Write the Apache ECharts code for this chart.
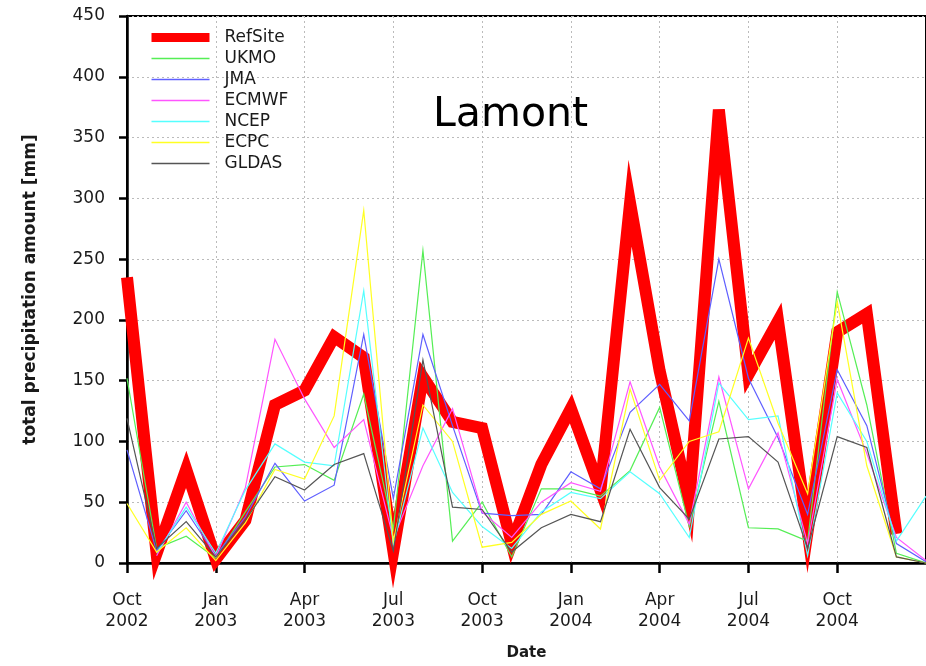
<!DOCTYPE html>
<html><head><meta charset="utf-8">
<script src="https://cdn.jsdelivr.net/npm/echarts@6/dist/echarts.min.js"></script>
<style>html,body{margin:0;padding:0;background:#fff}#c{width:926px;height:666px}</style>
</head><body><div id="c"></div>
<script>
const months = ["Oct 2002","Nov 2002","Dec 2002","Jan 2003","Feb 2003","Mar 2003","Apr 2003","May 2003","Jun 2003","Jul 2003","Aug 2003","Sep 2003","Oct 2003","Nov 2003","Dec 2003","Jan 2004","Feb 2004","Mar 2004","Apr 2004","May 2004","Jun 2004","Jul 2004","Aug 2004","Sep 2004","Oct 2004","Nov 2004","Dec 2004","Jan 2005"];
const seriesNames = ["RefSite","UKMO","JMA","ECMWF","NCEP","ECPC","GLDAS"];
const refSite = [235, 8, 77, 3, 35, 130, 142, 186, 169, 10, 153, 116, 111, 16, 81, 127, 60, 296, 158, 50, 373, 155, 199, 26, 190, 205, 24, null];
const ukmo    = [152, 12, 22, 4, 42, 79, 81, 68, 139, 28, 257, 18, 50, 5, 61, 61, 55, 76, 128, 30, 133, 29, 28, 18, 223, 130, 8, 0];
const jma     = [93, 10, 43, 6, 38, 82, 51, 64, 188, 53, 188, 113, 41, 39, 40, 75, 61, 124, 147, 117, 250, 152, 103, 40, 159, 113, 16, 1];
const ecmwf   = [null, 6, 50, 5, 62, 184, 135, 95, 118, 20, 80, 127, 42, 21, 50, 66, 59, 149, 79, 32, 153, 61, 107, 16, 151, 90, 21, 2];
const ncep    = [null, 8, 46, 8, 60, 98, 83, 80, 224, 15, 111, 58, 30, 12, 42, 58, 53, 75, 57, 21, 148, 118, 121, 6, 140, 100, 18, 55];
const ecpc    = [49, 9, 29, 2, 33, 77, 69, 121, 290, 18, 130, 100, 13, 17, 40, 51, 28, 143, 68, 100, 108, 185, 115, 57, 215, 80, 5, 0];
const gldas   = [119, 12, 34, 5, 35, 71, 60, 81, 90, 10, 167, 46, 44, 9, 29, 40, 34, 110, 62, 36, 102, 104, 83, 12, 104, 95, 5, 0];
const yTicks = [0, 50, 100, 150, 200, 250, 300, 350, 400, 450];

const F = 'DejaVu Sans';
const chart = echarts.init(document.getElementById('c'), null, {renderer: 'canvas'});
function mk(name, data, color, width) {
  return {
    name: name, type: 'line', data: data, symbol: 'none', clip: false,
    connectNulls: false,
    lineStyle: {color: color, width: width, join: 'miter', miterLimit: 10},
    itemStyle: {color: color},
    emphasis: {disabled: true}
  };
}
const axisLineStyle = {color: '#000', width: 2.5};
const option = {
  animation: false,
  backgroundColor: '#fff',
  title: {
    text: 'Lamont', left: 428, top: 90,
    textStyle: {fontFamily: F, fontSize: 41, fontWeight: 'normal', color: '#000'}
  },
  legend: {
    orient: 'vertical', left: 142, top: 24,
    itemWidth: 58, itemHeight: 14, itemGap: 4,
    data: seriesNames.map(function (n) {
      return {name: n, itemStyle: {opacity: 0}, lineStyle: {width: n === 'RefSite' ? 9 : 1.5}};
    }),
    textStyle: {fontFamily: F, fontSize: 17, lineHeight: 17, color: '#1a1a1a', padding: [0, 0, 0, 10]}
  },
  grid: {left: 127, top: 16, width: 803, height: 550, show: true, borderColor: '#000', borderWidth: 2, backgroundColor: 'transparent'},
  xAxis: {
    type: 'category', data: months, boundaryGap: false,
    name: 'Date', nameLocation: 'middle', nameGap: 83,
    nameTextStyle: {fontFamily: F, fontSize: 15, fontWeight: 'bold', color: '#1a1a1a', verticalAlign: 'top'},
    axisLine: {onZero: false, lineStyle: axisLineStyle},
    axisTick: {interval: 2, length: 10, lineStyle: axisLineStyle},
    axisLabel: {interval: 2, showMaxLabel: false, margin: 27, fontFamily: F, fontSize: 17, color: '#1a1a1a', lineHeight: 21,
      formatter: function (v) { return v.replace(' ', '\n'); }},
    splitLine: {show: true, interval: 2, lineStyle: {color: '#bbb', type: [2, 3], width: 1}}
  },
  yAxis: {
    type: 'value', min: yTicks[0], max: yTicks[yTicks.length - 1], interval: 50,
    name: 'total precipitation amount [mm]', nameLocation: 'middle', nameGap: 88, nameRotate: 90,
    nameTextStyle: {fontFamily: F, fontSize: 17, fontWeight: 'bold', color: '#1a1a1a'},
    axisLine: {show: true, lineStyle: axisLineStyle},
    axisTick: {show: true, length: 8, lineStyle: axisLineStyle},
    axisLabel: {margin: 22, fontFamily: F, fontSize: 17, color: '#1a1a1a'},
    splitLine: {show: true, lineStyle: {color: '#bbb', type: [2, 3], width: 1}}
  },
  series: [
    mk('RefSite', refSite, '#ff0000', 12),
    mk('UKMO', ukmo, '#55ee55', 1.2),
    mk('JMA', jma, '#5f5fff', 1.2),
    mk('ECMWF', ecmwf, '#ff55ff', 1.2),
    mk('NCEP', ncep, '#55ffff', 1.2),
    mk('ECPC', ecpc, '#ffff22', 1.2),
    mk('GLDAS', gldas, '#555555', 1.2)
  ]
};
chart.setOption(option);
</script>
</body></html>
